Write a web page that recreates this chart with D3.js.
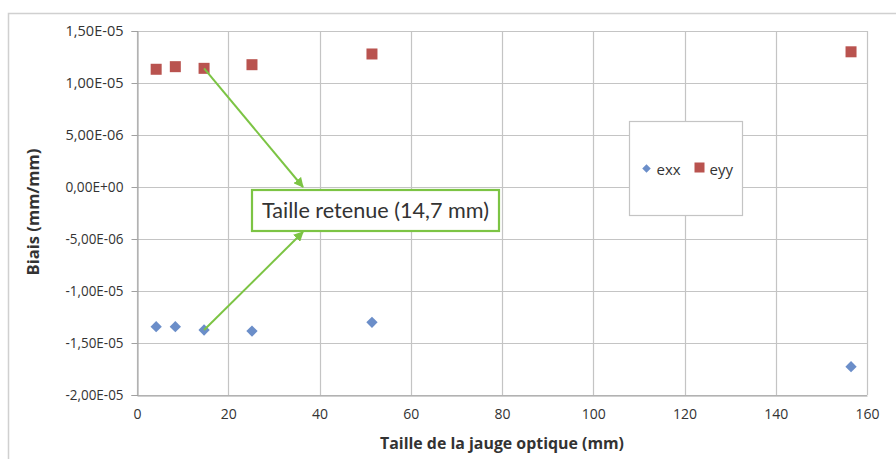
<!DOCTYPE html>
<html>
<head>
<meta charset="utf-8">
<script src="https://cdn.jsdelivr.net/npm/d3@7"></script>
<style>
  body { margin: 0; background: #fff; }
  text { font-family: "Open Sans", "Liberation Sans", sans-serif; fill: #333; }
</style>
</head>
<body>
<div id="chart"></div>
<script>
// gauge sizes (mm)
const gaugeSizes = [4.2, 8.4, 14.7, 25.2, 51.5, 156.5];
const exxValues = [-1.343e-5, -1.343e-5, -1.375e-5, -1.385e-5, -1.301e-5, -1.728e-5];
const eyyValues = [1.132e-5, 1.157e-5, 1.141e-5, 1.176e-5, 1.279e-5, 1.300e-5];
const xTicks = [0, 20, 40, 60, 80, 100, 120, 140, 160];
const yTicks = [-2e-5, -1.5e-5, -1e-5, -5e-6, 0, 5e-6, 1e-5, 1.5e-5];
const yTickLabels = ["-2,00E-05", "-1,50E-05", "-1,00E-05", "-5,00E-06", "0,00E+00", "5,00E-06", "1,00E-05", "1,50E-05"];
const chosenSize = 14.7;

const width = 896, height = 459;
const margin = { top: 31, right: 29, bottom: 64, left: 137 };

const svg = d3.select("#chart").append("svg")
  .attr("width", width)
  .attr("height", height);

// outer chart frame
svg.append("rect")
  .attr("x", 8.5).attr("y", 13.5)
  .attr("width", 900).attr("height", 460)
  .attr("fill", "none")
  .attr("stroke", "#d0d0d0")
  .attr("stroke-width", 1.5);

const x = d3.scaleLinear().domain([0, 160]).range([margin.left, width - margin.right]);
const y = d3.scaleLinear().domain([-2e-5, 1.5e-5]).range([height - margin.bottom, margin.top]);

const g = svg.append("g");

// grid
g.selectAll(".hgrid").data(yTicks).join("line")
  .attr("x1", x(0)).attr("x2", x(160))
  .attr("y1", d => Math.round(y(d)) + 0.5).attr("y2", d => Math.round(y(d)) + 0.5)
  .attr("stroke", "#c4c4c4").attr("stroke-width", 1.2);
g.selectAll(".vgrid").data(xTicks).join("line")
  .attr("y1", y(-2e-5)).attr("y2", y(1.5e-5))
  .attr("x1", d => Math.round(x(d)) + 0.5).attr("x2", d => Math.round(x(d)) + 0.5)
  .attr("stroke", "#c4c4c4").attr("stroke-width", 1.2);

// y axis
const yAxis = d3.axisLeft(y).tickValues(yTicks)
  .tickFormat((d, i) => yTickLabels[i]).tickSize(6).tickPadding(8);
const ya = svg.append("g").attr("transform", `translate(${x(0) + 0.5},0)`).call(yAxis);
ya.select(".domain").attr("stroke", "#a0a0a0");
ya.selectAll(".tick line").attr("stroke", "#a0a0a0");
ya.selectAll("text").attr("font-size", 14).attr("fill", "#3a3a3a")
  .attr("textLength", 58).attr("lengthAdjust", "spacingAndGlyphs")
  .style("font-family", "'Open Sans', sans-serif");

// x axis
const xAxis = d3.axisBottom(x).tickValues(xTicks).tickSize(0).tickPadding(14);
const xa = svg.append("g").attr("transform", `translate(0,${y(-2e-5) + 0.5})`).call(xAxis);
xa.select(".domain").attr("stroke", "#a0a0a0");
xa.selectAll("text").attr("font-size", 14).attr("fill", "#3a3a3a")
  .style("font-family", "'Open Sans', sans-serif");

// axis titles
svg.append("text")
  .attr("x", x(80)).attr("y", 449)
  .attr("text-anchor", "middle")
  .attr("font-size", 15.5).attr("font-weight", "bold")
  .attr("textLength", 244).attr("lengthAdjust", "spacingAndGlyphs")
  .text("Taille de la jauge optique (mm)");
svg.append("text")
  .attr("transform", `translate(39,${(y(-2e-5) + y(1.5e-5)) / 2 - 1}) rotate(-90)`)
  .attr("text-anchor", "middle")
  .attr("font-size", 15.5).attr("font-weight", "bold")
  .attr("textLength", 127).attr("lengthAdjust", "spacingAndGlyphs")
  .text("Biais (mm/mm)");

// series
const exxData = gaugeSizes.map((s, i) => ({ s, v: exxValues[i] }));
const eyyData = gaugeSizes.map((s, i) => ({ s, v: eyyValues[i] }));

g.selectAll(".eyy").data(eyyData).join("rect")
  .attr("x", d => x(d.s) - 5.5).attr("y", d => y(d.v) - 5.5)
  .attr("width", 11).attr("height", 11)
  .attr("fill", "#b9534f");
g.selectAll(".exx").data(exxData).join("rect")
  .attr("x", -4).attr("y", -4).attr("width", 8).attr("height", 8)
  .attr("transform", d => `translate(${x(d.s)},${y(d.v)}) rotate(45)`)
  .attr("fill", "#6b8ec9");

// annotation
const green = "#7cc444";
svg.append("defs").append("marker")
  .attr("id", "arrow").attr("viewBox", "0 0 10 10")
  .attr("refX", 9).attr("refY", 5)
  .attr("markerWidth", 5).attr("markerHeight", 5)
  .attr("orient", "auto")
  .append("path").attr("d", "M0,0 L10,5 L0,10 z").attr("fill", green);

const boxX = 252, boxY = 190, boxW = 247, boxH = 41;
const tipX = 303;
const chosenIdx = gaugeSizes.indexOf(chosenSize);
svg.append("line")
  .attr("x1", x(chosenSize)).attr("y1", y(eyyValues[chosenIdx]))
  .attr("x2", tipX).attr("y2", boxY - 3)
  .attr("stroke", green).attr("stroke-width", 2)
  .attr("marker-end", "url(#arrow)");
svg.append("line")
  .attr("x1", x(chosenSize)).attr("y1", y(exxValues[chosenIdx]))
  .attr("x2", tipX).attr("y2", boxY + boxH + 1)
  .attr("stroke", green).attr("stroke-width", 2)
  .attr("marker-end", "url(#arrow)");
svg.append("rect")
  .attr("x", boxX).attr("y", boxY).attr("width", boxW).attr("height", boxH)
  .attr("fill", "#fff").attr("stroke", green).attr("stroke-width", 2.2);
svg.append("text")
  .attr("x", boxX + 10).attr("y", boxY + 28)
  .attr("font-size", 21)
  .attr("textLength", 227).attr("lengthAdjust", "spacingAndGlyphs")
  .style("font-family", "'Lato', sans-serif")
  .attr("fill", "#333")
  .text("Taille retenue (14,7 mm)");

// legend
const leg = svg.append("g").attr("transform", "translate(629.5,121.5)");
leg.append("rect").attr("width", 113).attr("height", 94)
  .attr("fill", "#fff").attr("stroke", "#c4c4c4").attr("stroke-width", 1.2);
leg.append("rect").attr("x", -3).attr("y", -3).attr("width", 6).attr("height", 6)
  .attr("transform", "translate(17,47) rotate(45)").attr("fill", "#6b8ec9");
leg.append("text").attr("x", 27).attr("y", 53).attr("font-size", 15).text("exx");
leg.append("rect").attr("x", 65).attr("y", 41).attr("width", 10).attr("height", 10)
  .attr("fill", "#b9534f");
leg.append("text").attr("x", 80).attr("y", 53).attr("font-size", 15).text("eyy");
</script>
</body>
</html>
